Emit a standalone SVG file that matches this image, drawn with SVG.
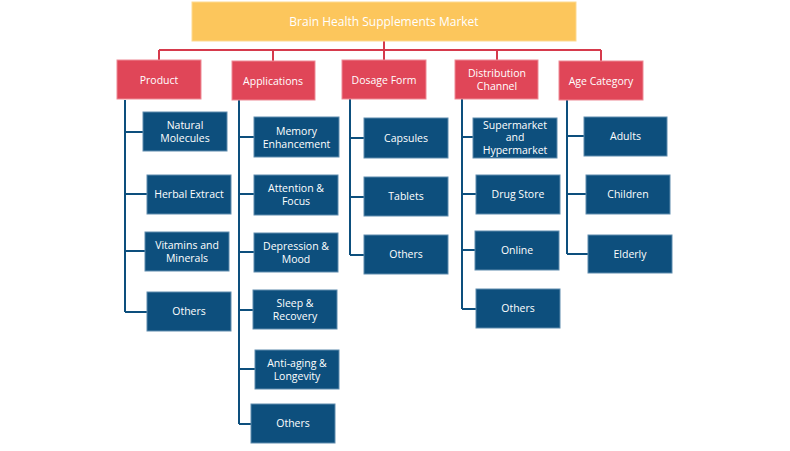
<svg xmlns="http://www.w3.org/2000/svg" width="790" height="451" viewBox="0 0 790 451">
<style>
.top{fill:#FCC65C;stroke:#FDD98F;stroke-width:1}
.cat{fill:#E04658;stroke:#EE8A95;stroke-width:1}
.leaf{fill:#0D4F7D;stroke:#5F8CAE;stroke-width:1}
.t{font-family:"Open Sans","Liberation Sans",sans-serif;font-size:10.5px;fill:#FFFFFF;text-anchor:middle}
.tt{font-family:"Open Sans","Liberation Sans",sans-serif;font-size:12px;fill:#FFFFFF;text-anchor:middle}
.red{stroke:#D63A4C;stroke-width:2;fill:none}
.blue{stroke:#0D4F7D;stroke-width:2;fill:none}
</style>
<rect width="790" height="451" fill="#FFFFFF"/>
<g id="connectors">
<path class="red" d="M384 41V50M159 50H601M159 50V60M273 50V61M384 50V60M497 50V60M601 50V61"/>
<path class="blue" d="M125 100V312M125 132H143M125 194H147M125 251H145M125 312H147"/>
<path class="blue" d="M239 100V424M239 137H254M239 194H254M239 252H254M239 310H253M239 369H255M239 424H251"/>
<path class="blue" d="M350 99V255M350 138H364M350 197H364M350 255H364"/>
<path class="blue" d="M462 99V309M462 137H473M462 194H476M462 250H475M462 309H476"/>
<path class="blue" d="M567 100V254M567 136H584M567 194H586M567 254H588"/>
</g>
<g id="root"><rect class="top" x="192" y="2" width="384" height="39"/><text class="tt" x="384" y="26">Brain Health Supplements Market</text></g>
<g id="product"><rect class="cat" x="117" y="60" width="84" height="39"/><text class="t" x="159" y="83.5">Product</text></g>
<g id="applications"><rect class="cat" x="232" y="61" width="83" height="39"/><text class="t" x="273" y="84.5">Applications</text></g>
<g id="dosage"><rect class="cat" x="342" y="60" width="84" height="39"/><text class="t" x="384" y="83.5">Dosage Form</text></g>
<g id="distribution"><rect class="cat" x="455" y="60" width="83" height="39"/><text class="t" x="497" y="76.5">Distribution</text><text class="t" x="497" y="89.5">Channel</text></g>
<g id="age"><rect class="cat" x="559" y="61" width="84" height="39"/><text class="t" x="601" y="84.5">Age Category</text></g>

<g id="natural"><rect class="leaf" x="143" y="112" width="84" height="39"/><text class="t" x="185" y="128.5">Natural</text><text class="t" x="185" y="141.5">Molecules</text></g>
<g id="herbal"><rect class="leaf" x="147" y="175" width="84" height="39"/><text class="t" x="189" y="198">Herbal Extract</text></g>
<g id="vitamins"><rect class="leaf" x="145" y="232" width="84" height="39"/><text class="t" x="187" y="248.5">Vitamins and</text><text class="t" x="187" y="261.5">Minerals</text></g>
<g id="others1"><rect class="leaf" x="147" y="292" width="84" height="39"/><text class="t" x="189" y="315">Others</text></g>

<g id="memory"><rect class="leaf" x="254" y="117" width="85" height="40"/><text class="t" x="296.5" y="134.5">Memory</text><text class="t" x="296.5" y="147.5">Enhancement</text></g>
<g id="attention"><rect class="leaf" x="254" y="175" width="84" height="40"/><text class="t" x="296" y="191.5">Attention &amp;</text><text class="t" x="296" y="204.5">Focus</text></g>
<g id="depression"><rect class="leaf" x="254" y="233" width="84" height="39"/><text class="t" x="296" y="249.5">Depression &amp;</text><text class="t" x="296" y="262.5">Mood</text></g>
<g id="sleep"><rect class="leaf" x="253" y="290" width="84" height="39"/><text class="t" x="295" y="306.5">Sleep &amp;</text><text class="t" x="295" y="319.5">Recovery</text></g>
<g id="antiaging"><rect class="leaf" x="255" y="350" width="84" height="39"/><text class="t" x="297" y="366.5">Anti-aging &amp;</text><text class="t" x="297" y="379.5">Longevity</text></g>
<g id="others2"><rect class="leaf" x="251" y="404" width="84" height="39"/><text class="t" x="293" y="427">Others</text></g>

<g id="capsules"><rect class="leaf" x="364" y="118" width="84" height="40"/><text class="t" x="406" y="142">Capsules</text></g>
<g id="tablets"><rect class="leaf" x="364" y="177" width="84" height="39"/><text class="t" x="406" y="200">Tablets</text></g>
<g id="others3"><rect class="leaf" x="364" y="235" width="84" height="39"/><text class="t" x="406" y="258">Others</text></g>

<g id="supermarket"><rect class="leaf" x="473" y="118" width="84" height="40"/><text class="t" x="515" y="128.5">Supermarket</text><text class="t" x="515" y="141">and</text><text class="t" x="515" y="153.5">Hypermarket</text></g>
<g id="drugstore"><rect class="leaf" x="476" y="175" width="84" height="39"/><text class="t" x="518" y="198">Drug Store</text></g>
<g id="online"><rect class="leaf" x="475" y="231" width="84" height="39"/><text class="t" x="517" y="254">Online</text></g>
<g id="others4"><rect class="leaf" x="476" y="289" width="84" height="39"/><text class="t" x="518" y="312">Others</text></g>

<g id="adults"><rect class="leaf" x="584" y="117" width="83" height="39"/><text class="t" x="625.5" y="140">Adults</text></g>
<g id="children"><rect class="leaf" x="586" y="175" width="84" height="39"/><text class="t" x="628" y="198">Children</text></g>
<g id="elderly"><rect class="leaf" x="588" y="235" width="84" height="38"/><text class="t" x="630" y="258">Elderly</text></g>
</svg>
